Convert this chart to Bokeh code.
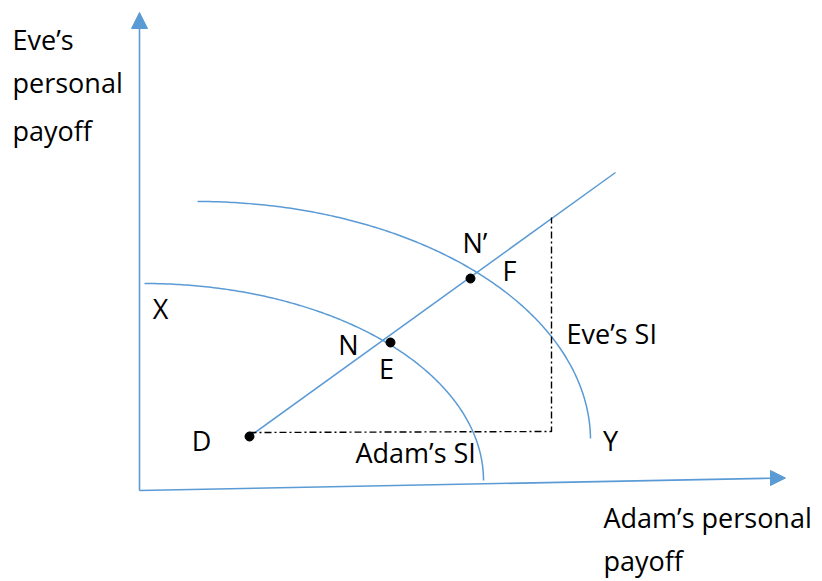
import numpy as np
from bokeh.plotting import figure
from bokeh.models import Range1d
from bokeh.embed import file_html
from bokeh.resources import INLINE
from bokeh.core.properties import value

# ---- diagram geometry (page-pixel-like units, y grows downward) ----
y_axis_x = [139, 139]
y_axis_y = [490, 27]
y_head_x = [131, 147, 139]
y_head_y = [28, 28, 12]

x_axis_x = [139, 771]
x_axis_y = [490, 477.7]
x_head_x = [770, 770, 785]
x_head_y = [470, 485, 477.5]

ray_x = [249, 615]
ray_y = [436, 172]

guide_x = [249, 551, 551]
guide_y = [432, 431, 217]

# Adam's SI: quarter ellipse (cx, cy, a, b)
adam_si = (144, 480, 339, 197)
# Eve's SI: quarter ellipse (cx, cy, a, b)
eve_si = (197, 440, 393, 239)

point_x = [249, 390, 470]
point_y = [436, 342, 278]

label_text = ["Eve’s", "personal", "payoff", "Adam’s personal", "payoff",
              "N’", "Eve’s SI", "Adam’s SI"]
label_x = [12, 12, 12, 603, 603, 462, 566, 355]
label_y = [50, 93, 141, 528, 571, 253, 344, 463]

letter_text = ["X", "D", "N", "E", "F", "Y"]
letter_x = [160, 201, 348, 386, 509, 610]
letter_y = [319, 451, 355, 379, 281, 451]

BLUE = "#5B9BD5"
FONT = value("Open Sans")
TEXT_SHIFT = -11  # compensates renderer baseline offset

p = figure(width=820, height=580, output_backend="svg", toolbar_location=None,
           x_range=Range1d(0, 820), y_range=Range1d(580, 0),
           min_border=0)
p.axis.visible = False
p.grid.visible = False
p.outline_line_color = None
p.background_fill_color = "white"
p.border_fill_color = "white"

# axes with arrow heads
p.line(y_axis_x, y_axis_y, line_color=BLUE, line_width=1.6)
p.patch(y_head_x, y_head_y, fill_color=BLUE, line_color=BLUE)
p.line(x_axis_x, x_axis_y, line_color=BLUE, line_width=1.6)
p.patch(x_head_x, x_head_y, fill_color=BLUE, line_color=BLUE)

# curves
def quarter(params, t0=np.pi / 2, t1=0.0):
    cx, cy, a, b = params
    t = np.linspace(t0, t1, 200)
    return cx + a * np.cos(t), cy - b * np.sin(t)

ax_, ay_ = quarter(adam_si)
p.line(ax_, ay_, line_color=BLUE, line_width=1.5)
ex_, ey_ = quarter(eve_si, t1=0.008)
p.line(ex_, ey_, line_color=BLUE, line_width=1.5)

# ray from D
p.line(ray_x, ray_y, line_color=BLUE, line_width=1.5)

# dash-dot guide
p.line(guide_x, guide_y, line_color="black", line_width=1.4, line_dash="7 3 2 3")

# points
p.scatter(point_x, point_y, size=9, fill_color="black", line_color="black")

# text
p.text(label_x, [v + TEXT_SHIFT for v in label_y], text=label_text, text_font=FONT,
       text_font_size="27px", text_align="left", text_baseline="alphabetic",
       text_color="black")
p.text(letter_x, [v + TEXT_SHIFT for v in letter_y], text=letter_text, text_font=FONT,
       text_font_size="27px", text_align="center", text_baseline="alphabetic",
       text_color="black")

open("out.html", "w").write(file_html(p, INLINE))
